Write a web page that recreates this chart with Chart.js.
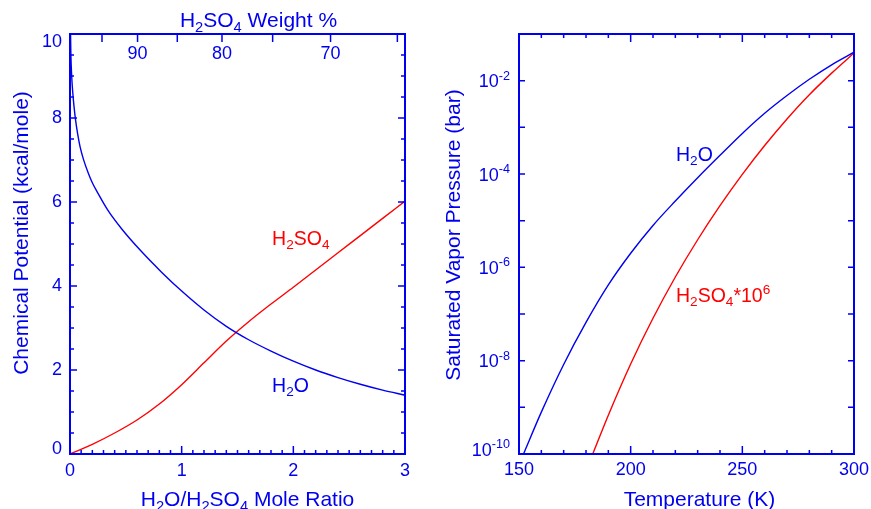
<!DOCTYPE html>
<html>
<head>
<meta charset="utf-8">
<script src="https://cdn.jsdelivr.net/npm/chart.js@4.4.0/dist/chart.umd.min.js"></script>
<style>
    html, body { margin: 0; padding: 0; background: #fff; overflow: hidden; }
    #wrap { position: relative; width: 871px; height: 509px; }
    canvas { position: absolute; top: 0; }
    #left { left: 0; }
    #right { left: 435px; }
</style>
</head>
<body>
<div id="wrap">
    <canvas id="left" width="435" height="509"></canvas>
    <canvas id="right" width="436" height="509"></canvas>
</div>
<script>
// Left panel: chemical potential (kcal/mole) vs H2O/H2SO4 mole ratio
const moleRatioH2O = [0.003, 0.008, 0.015, 0.025, 0.035, 0.05, 0.07, 0.09, 0.12, 0.165, 0.2, 0.25, 0.34, 0.46, 0.63, 0.82, 1.0, 1.2, 1.4, 1.6, 1.8, 2.0, 2.2, 2.4, 2.6, 2.8, 3.0];
const potentialH2O = [10.3, 9.5, 9.0, 8.6, 8.3, 7.95, 7.6, 7.32, 7.02, 6.68, 6.46, 6.21, 5.80, 5.37, 4.85, 4.33, 3.88, 3.43, 3.04, 2.72, 2.45, 2.21, 2.00, 1.82, 1.66, 1.52, 1.40];
const moleRatioH2SO4 = [0, 0.2, 0.4, 0.6, 0.8, 1.0, 1.2, 1.4, 1.6, 1.8, 2.0, 2.2, 2.4, 2.6, 2.8, 3.0];
const potentialH2SO4 = [0.0, 0.23, 0.50, 0.81, 1.19, 1.65, 2.17, 2.69, 3.15, 3.57, 3.97, 4.38, 4.79, 5.20, 5.61, 6.02];
const leftXTicks = [0, 1, 2, 3];
const leftYTicks = [0, 2, 4, 6, 8, 10];
const weightPctLabels = [90, 80, 70];
const weightPctMinor = [95, 85, 75, 65];

// Right panel: saturated vapor pressure (bar) vs temperature (K)
const tempH2O = [152, 160, 170, 180, 190, 200, 210, 220, 230, 240, 250, 260, 270, 280, 290, 300];
const pressH2O = [1.0e-10, 7.9e-10, 8.3e-9, 6.6e-8, 4.2e-7, 2.0e-6, 7.9e-6, 2.63e-5, 8.3e-5, 2.51e-4, 7.4e-4, 2.0e-3, 4.8e-3, 1.07e-2, 2.19e-2, 4.07e-2];
const tempH2SO4 = [183, 190, 200, 210, 220, 230, 240, 250, 260, 270, 280, 290, 300];
const pressH2SO4 = [1.0e-10, 6.8e-10, 8.5e-9, 8.1e-8, 6.2e-7, 3.9e-6, 2.09e-5, 9.8e-5, 4.07e-4, 1.51e-3, 5.0e-3, 1.45e-2, 3.9e-2];
const rightXTicks = [150, 200, 250, 300];
const rightYExponents = [-2, -4, -6, -8, -10];

const BLUE = "#0000f0";
const RED = "#ff0000";
const FONT = "'Liberation Sans', Arial, sans-serif";
const TICK_SIZE = 18;
const TITLE_SIZE = 21;
const NOTE_SIZE = 19.5;

// mass fraction of H2SO4 -> mole ratio H2O/H2SO4
const M_H2SO4 = 98.08, M_H2O = 18.015;
const ratioFromWeight = w => (M_H2SO4 / M_H2O) * (100 / w - 1);

// text with _{sub} and ^{sup} parts
function parseRich(str) {
    const parts = [];
    const re = /([_^])\{([^}]*)\}/g;
    let m, last = 0;
    while ((m = re.exec(str))) {
        if (m.index > last) parts.push({ t: str.slice(last, m.index), k: 0 });
        parts.push({ t: m[2], k: m[1] === "_" ? 1 : -1 });
        last = re.lastIndex;
    }
    if (last < str.length) parts.push({ t: str.slice(last), k: 0 });
    return parts;
}

function drawRich(ctx, str, x, y, size, color, align) {
    const parts = parseRich(str);
    const small = size * 0.7;
    let total = 0;
    parts.forEach(p => {
        ctx.font = `${p.k ? small : size}px ${FONT}`;
        p.w = ctx.measureText(p.t).width;
        total += p.w;
    });
    let cx = align === "center" ? x - total / 2 : align === "right" ? x - total : x;
    ctx.fillStyle = color;
    ctx.textAlign = "left";
    ctx.textBaseline = "alphabetic";
    parts.forEach(p => {
        ctx.font = `${p.k ? small : size}px ${FONT}`;
        const dy = p.k === 1 ? size * 0.22 : p.k === -1 ? -size * 0.42 : 0;
        ctx.fillText(p.t, cx, y + dy);
        cx += p.w;
    });
}

function drawRotated(ctx, str, x, y, size, color) {
    ctx.save();
    ctx.translate(x, y);
    ctx.rotate(-Math.PI / 2);
    drawRich(ctx, str, 0, 0, size, color, "center");
    ctx.restore();
}

function line(ctx, x1, y1, x2, y2) {
    ctx.moveTo(x1, y1);
    ctx.lineTo(x2, y2);
}

const leftFrame = {
    id: "leftFrame",
    afterDraw(chart) {
        const ctx = chart.ctx, a = chart.chartArea;
        const xs = chart.scales.x, ys = chart.scales.y;
        ctx.save();
        ctx.strokeStyle = BLUE;
        ctx.lineWidth = 1.5;
        ctx.beginPath();
        // bottom ticks every 0.1
        for (let i = 0; i <= 30; i++) {
            const px = xs.getPixelForValue(i / 10);
            line(ctx, px, a.bottom, px, a.bottom - (i % 10 === 0 ? 8 : 4));
        }
        // top ticks: H2SO4 weight %
        weightPctLabels.concat(weightPctMinor).forEach(w => {
            const px = xs.getPixelForValue(ratioFromWeight(w));
            line(ctx, px, a.top, px, a.top + 8);
        });
        // left and right ticks every 0.5
        for (let i = 0; i <= 20; i++) {
            const py = ys.getPixelForValue(i / 2);
            const len = i % 4 === 0 ? 7 : 4;
            line(ctx, a.left, py, a.left + len, py);
            line(ctx, a.right, py, a.right - len, py);
        }
        ctx.stroke();
        ctx.lineWidth = 2;
        ctx.strokeRect(a.left, a.top, a.right - a.left, a.bottom - a.top);

        // tick labels
        ctx.font = `${TICK_SIZE}px ${FONT}`;
        ctx.fillStyle = BLUE;
        ctx.textAlign = "center";
        ctx.textBaseline = "middle";
        leftXTicks.forEach(v => ctx.fillText(String(v), xs.getPixelForValue(v), a.bottom + 17));
        weightPctLabels.forEach(w => ctx.fillText(String(w), xs.getPixelForValue(ratioFromWeight(w)), a.top + 20));
        ctx.textAlign = "right";
        leftYTicks.forEach(v => {
            const py = Math.min(Math.max(ys.getPixelForValue(v), a.top + 8), a.bottom - 5);
            ctx.fillText(String(v), a.left - 8, py);
        });

        // titles
        const mid = (a.left + a.right) / 2;
        drawRich(ctx, "H_{2}O/H_{2}SO_{4} Mole Ratio", mid + 10, 506, TITLE_SIZE, BLUE, "center");
        drawRich(ctx, "H_{2}SO_{4} Weight %", mid + 21, 27, TITLE_SIZE, BLUE, "center");
        drawRotated(ctx, "Chemical Potential (kcal/mole)", 28, 233, TITLE_SIZE, BLUE);

        // curve labels
        drawRich(ctx, "H_{2}SO_{4}", xs.getPixelForValue(1.81), ys.getPixelForValue(4.98), NOTE_SIZE, RED, "left");
        drawRich(ctx, "H_{2}O", xs.getPixelForValue(1.81), ys.getPixelForValue(1.48), NOTE_SIZE, BLUE, "left");
        ctx.restore();
    }
};

const rightFrame = {
    id: "rightFrame",
    afterDraw(chart) {
        const ctx = chart.ctx, a = chart.chartArea;
        const xs = chart.scales.x, ys = chart.scales.y;
        ctx.save();
        ctx.strokeStyle = BLUE;
        ctx.lineWidth = 1.5;
        ctx.beginPath();
        // bottom and top ticks every 10 K
        for (let t = 150; t <= 300; t += 10) {
            const px = xs.getPixelForValue(t);
            const len = t % 50 === 0 ? 8 : 4;
            line(ctx, px, a.bottom, px, a.bottom - len);
            line(ctx, px, a.top, px, a.top + len);
        }
        // left and right ticks every decade
        for (let e = -10; e <= -2; e++) {
            const py = ys.getPixelForValue(Math.pow(10, e));
            line(ctx, a.left, py, a.left + 6, py);
            line(ctx, a.right, py, a.right - 6, py);
        }
        ctx.stroke();
        ctx.lineWidth = 2;
        ctx.strokeRect(a.left, a.top, a.right - a.left, a.bottom - a.top);

        ctx.font = `${TICK_SIZE}px ${FONT}`;
        ctx.fillStyle = BLUE;
        ctx.textAlign = "center";
        ctx.textBaseline = "middle";
        rightXTicks.forEach(t => ctx.fillText(String(t), xs.getPixelForValue(t), a.bottom + 16));
        rightYExponents.forEach(e => {
            const py = Math.min(ys.getPixelForValue(Math.pow(10, e)), a.bottom - 5);
            drawRich(ctx, `10^{${e}}`, a.left - 9, py + 6.5, TICK_SIZE, BLUE, "right");
        });

        const mid = (a.left + a.right) / 2;
        drawRich(ctx, "Temperature (K)", mid + 13, 506, TITLE_SIZE, BLUE, "center");
        drawRotated(ctx, "Saturated Vapor Pressure (bar)", 25, 235, TITLE_SIZE, BLUE);

        drawRich(ctx, "H_{2}O", xs.getPixelForValue(220.3), ys.getPixelForValue(1.9e-4), NOTE_SIZE, BLUE, "left");
        drawRich(ctx, "H_{2}SO_{4}*10^{6}", xs.getPixelForValue(220.3), ys.getPixelForValue(1.8e-7), NOTE_SIZE, RED, "left");
        ctx.restore();
    }
};

function series(xs, ys, color) {
    return {
        data: xs.map((x, i) => ({ x: x, y: ys[i] })),
        borderColor: color,
        borderWidth: 1.4,
        pointRadius: 0,
        cubicInterpolationMode: "monotone",
        clip: 1
    };
}

const hiddenAxis = {
    ticks: { display: false },
    grid: { display: false },
    border: { display: false }
};

new Chart(document.getElementById("left"), {
    type: "line",
    data: {
        datasets: [
            series(moleRatioH2O, potentialH2O, BLUE),
            series(moleRatioH2SO4, potentialH2SO4, RED)
        ]
    },
    options: {
        responsive: false,
        animation: false,
        layout: { padding: { top: 34, right: 30, left: 0, bottom: 0 } },
        plugins: { legend: { display: false }, tooltip: { enabled: false } },
        scales: {
            x: { ...hiddenAxis, type: "linear", min: 0, max: 3, afterFit: s => { s.height = 55; } },
            y: { ...hiddenAxis, type: "linear", min: 0, max: 10, afterFit: s => { s.width = 70; } }
        }
    },
    plugins: [leftFrame]
});

new Chart(document.getElementById("right"), {
    type: "line",
    data: {
        datasets: [
            series(tempH2O, pressH2O, BLUE),
            series(tempH2SO4, pressH2SO4, RED)
        ]
    },
    options: {
        responsive: false,
        animation: false,
        layout: { padding: { top: 34, right: 17, left: 0, bottom: 0 } },
        plugins: { legend: { display: false }, tooltip: { enabled: false } },
        scales: {
            x: { ...hiddenAxis, type: "linear", min: 150, max: 300, afterFit: s => { s.height = 55; } },
            y: { ...hiddenAxis, type: "logarithmic", min: 1e-10, max: 1e-1, afterFit: s => { s.width = 84; } }
        }
    },
    plugins: [rightFrame]
});
</script>
</body>
</html>
